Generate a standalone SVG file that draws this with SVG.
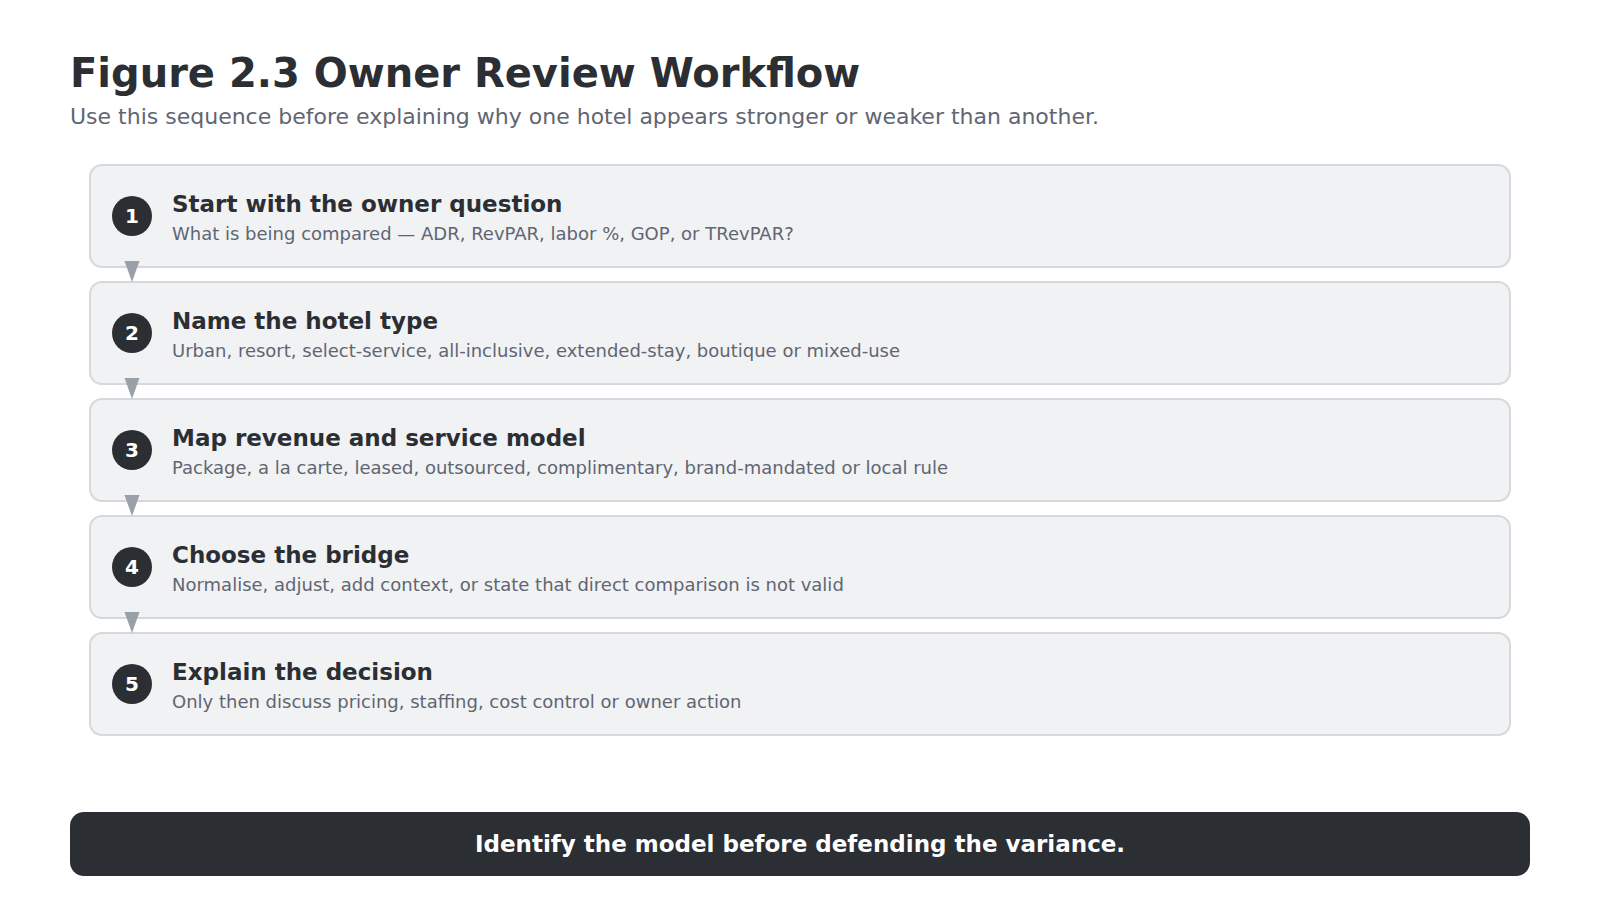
<svg xmlns="http://www.w3.org/2000/svg" width="1600" height="900" viewBox="0 0 1600 900">
<style>
text{font-family:"DejaVu Sans","Liberation Sans",sans-serif}
.title{font-size:40px;font-weight:bold;fill:#2b2e33}
.sub{font-size:22px;fill:#5f6672}
.box{fill:#f1f2f4;stroke:#d5d8dc;stroke-width:2}
.num{fill:#2b2e33}
.numt{font-size:20px;font-weight:bold;fill:#ffffff;text-anchor:middle}
.head{font-size:23px;font-weight:bold;fill:#2b2e33}
.desc{font-size:18px;fill:#5f6672}
.arrow{fill:#9aa0a7}
.bar{fill:#2b2e33}
.bart{font-size:23px;font-weight:bold;fill:#ffffff;text-anchor:middle}
</style>
<rect width="1600" height="900" fill="#ffffff"/>
<text class="title" x="70" y="87">Figure 2.3 Owner Review Workflow</text>
<text class="sub" x="70" y="124">Use this sequence before explaining why one hotel appears stronger or weaker than another.</text>
<g id="step1">
<rect class="box" x="90" y="165" width="1420" height="102" rx="12"/>
<circle class="num" cx="132" cy="216" r="20"/>
<text class="numt" x="132" y="223">1</text>
<text class="head" x="172" y="212">Start with the owner question</text>
<text class="desc" x="172" y="240">What is being compared — ADR, RevPAR, labor %, GOP, or TRevPAR?</text>
</g>
<g id="step2">
<rect class="box" x="90" y="282" width="1420" height="102" rx="12"/>
<circle class="num" cx="132" cy="333" r="20"/>
<text class="numt" x="132" y="340">2</text>
<text class="head" x="172" y="329">Name the hotel type</text>
<text class="desc" x="172" y="357">Urban, resort, select-service, all-inclusive, extended-stay, boutique or mixed-use</text>
</g>
<g id="step3">
<rect class="box" x="90" y="399" width="1420" height="102" rx="12"/>
<circle class="num" cx="132" cy="450" r="20"/>
<text class="numt" x="132" y="457">3</text>
<text class="head" x="172" y="446">Map revenue and service model</text>
<text class="desc" x="172" y="474">Package, a la carte, leased, outsourced, complimentary, brand-mandated or local rule</text>
</g>
<g id="step4">
<rect class="box" x="90" y="516" width="1420" height="102" rx="12"/>
<circle class="num" cx="132" cy="567" r="20"/>
<text class="numt" x="132" y="574">4</text>
<text class="head" x="172" y="563">Choose the bridge</text>
<text class="desc" x="172" y="591">Normalise, adjust, add context, or state that direct comparison is not valid</text>
</g>
<g id="step5">
<rect class="box" x="90" y="633" width="1420" height="102" rx="12"/>
<circle class="num" cx="132" cy="684" r="20"/>
<text class="numt" x="132" y="691">5</text>
<text class="head" x="172" y="680">Explain the decision</text>
<text class="desc" x="172" y="708">Only then discuss pricing, staffing, cost control or owner action</text>
</g>
<g id="connectors">
<polygon class="arrow" points="124.5,261 139.5,261 132,282"/>
<polygon class="arrow" points="124.5,378 139.5,378 132,399"/>
<polygon class="arrow" points="124.5,495 139.5,495 132,516"/>
<polygon class="arrow" points="124.5,612 139.5,612 132,633"/>
</g>
<g id="takeaway">
<rect class="bar" x="70" y="812" width="1460" height="64" rx="14"/>
<text class="bart" x="800" y="852">Identify the model before defending the variance.</text>
</g>
</svg>
